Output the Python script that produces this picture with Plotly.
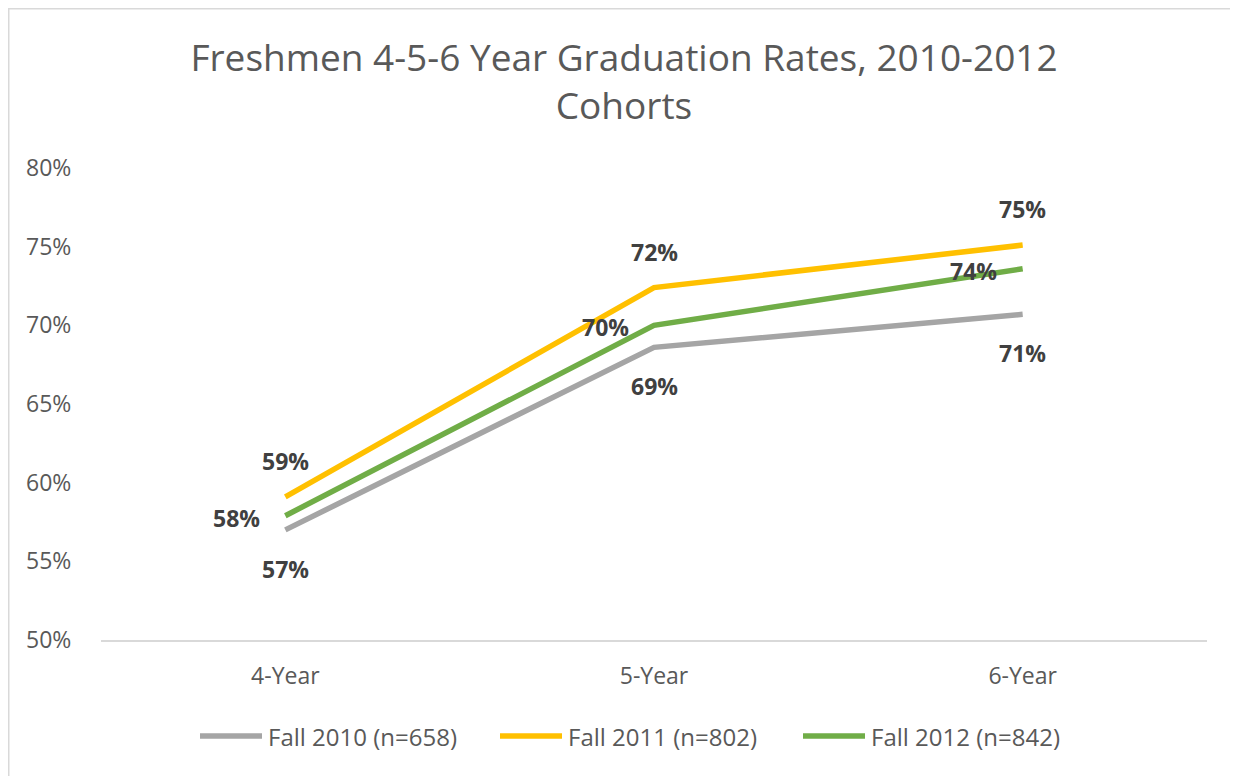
import plotly.graph_objects as go

categories = ["4-Year", "5-Year", "6-Year"]
series_names = ["Fall 2010 (n=658)", "Fall 2011 (n=802)", "Fall 2012 (n=842)"]
fall_2010 = [0.570, 0.686, 0.707]
fall_2011 = [0.591, 0.724, 0.751]
fall_2012 = [0.579, 0.700, 0.736]
y_ticks = [0.50, 0.55, 0.60, 0.65, 0.70, 0.75, 0.80]

colors = ["#A5A5A5", "#FFC000", "#70AD47"]
series = [fall_2010, fall_2011, fall_2012]
# label offsets (px): below, above, left
offsets = [(0, -39), (0, 36), (-49, -2)]

FONT = "Open Sans"
W, H = 1238, 776
PL, PT, PR, PB = 93, 160, 39, 144  # plot area margins
PW, PH = W - PL - PR, H - PT - PB
OFF = 8  # page body margin


def px(x_screen):
    return (x_screen - OFF - PL) / PW


def py(y_screen):
    return (H - PB - (y_screen - OFF)) / PH


fig = go.Figure()
for name, vals, col in zip(series_names, series, colors):
    fig.add_trace(go.Scatter(
        x=categories, y=vals, mode="lines", name=name,
        line=dict(color=col, width=5.5),
        hoverinfo="skip", showlegend=False,
    ))

annotations = []
for vals, (dx, dy) in zip(series, offsets):
    for c, v in zip(categories, vals):
        annotations.append(dict(
            x=c, y=v, xref="x", yref="y", text=f"{round(v*100):d}%",
            showarrow=False, xshift=dx, yshift=dy,
            font=dict(family=FONT, size=23, color="#404040", weight="bold"),
        ))

# custom legend (long line samples as in the reference)
shapes = []
legend_x = [200, 500, 803]
for name, col, lx in zip(series_names, colors, legend_x):
    shapes.append(dict(
        type="line", xref="paper", yref="paper",
        x0=px(lx), x1=px(lx + 62), y0=py(736), y1=py(736),
        line=dict(color=col, width=5.5),
    ))
    annotations.append(dict(
        x=px(lx + 66), y=py(736), xref="paper", yref="paper",
        xanchor="left", yanchor="middle", text=name, showarrow=False,
        font=dict(family=FONT, size=24, color="#595959"),
    ))

shapes.append(dict(
    type="rect", xref="paper", yref="paper",
    x0=px(8.5), x1=1.1, y0=-0.5, y1=py(8.5),
    line=dict(color="#d9d9d9", width=2), fillcolor="rgba(0,0,0,0)", layer="below",
))

fig.update_layout(
    width=W, height=H,
    margin=dict(l=PL, r=PR, t=PT, b=PB),
    paper_bgcolor="white", plot_bgcolor="white",
    showlegend=False,
    title=dict(
        text="Freshmen 4-5-6 Year Graduation Rates, 2010-2012<br>Cohorts",
        x=(624 - OFF) / W, xanchor="center",
        y=1 - (70.5 - OFF) / H, yanchor="middle",
        font=dict(family=FONT, size=37, color="#595959"),
    ),
    xaxis=dict(
        range=[-0.5, 2.5], showgrid=False, zeroline=False,
        showline=True, linecolor="#d9d9d9", linewidth=2,
        ticks="outside", ticklen=14, tickcolor="rgba(0,0,0,0)",
        tickfont=dict(family=FONT, size=23, color="#595959"),
    ),
    yaxis=dict(
        range=[0.5, 0.8], tickvals=y_ticks, tickformat=".0%",
        showgrid=False, zeroline=False, showline=False,
        ticks="outside", ticklen=24, tickcolor="rgba(0,0,0,0)",
        tickfont=dict(family=FONT, size=23, color="#595959"),
    ),
    annotations=annotations,
    shapes=shapes,
)

fig.write_html("out.html")
